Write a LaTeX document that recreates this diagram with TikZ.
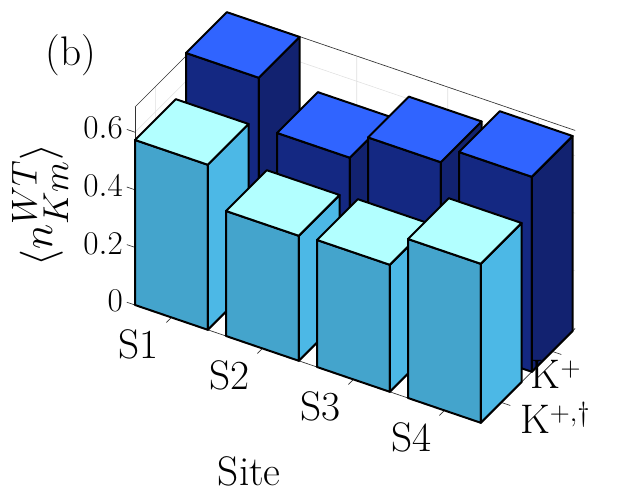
\documentclass[tikz,border=0pt]{standalone}
\usepackage{amsmath}
\definecolor{ffront}{RGB}{68,164,204}
\definecolor{fside}{RGB}{76,184,230}
\definecolor{ftop}{RGB}{178,255,255}
\definecolor{bfront}{RGB}{20,40,130}
\definecolor{bside}{RGB}{18,34,112}
\definecolor{btop}{RGB}{48,100,255}
\newcommand{\mybar}[6]{%
 \draw[barline,fill=#4] (#1,#2,0)--(#1+.8,#2,0)--(#1+.8,#2,#3)--(#1,#2,#3)--cycle;
 \draw[barline,fill=#5] (#1+.8,#2,0)--(#1+.8,#2+.8,0)--(#1+.8,#2+.8,#3)--(#1+.8,#2,#3)--cycle;
 \draw[barline,fill=#6] (#1,#2,#3)--(#1+.8,#2,#3)--(#1+.8,#2+.8,#3)--(#1,#2+.8,#3)--cycle;}
\begin{document}
\begin{tikzpicture}[x=1pt,y=1pt,
  barline/.style={line width=1.5pt,line join=round},
  gridl/.style={gray!25,line width=0.4pt},
  axl/.style={black!80,line width=0.5pt},
  lab/.style={font=\fontsize{31}{36}\selectfont,inner sep=0pt}]
\useasboundingbox (0,0) rectangle (473.25,375.75);
\begin{scope}[shift={(101.25,147)},x={(68.25pt,-23.25pt)},y={(38.25pt,38.25pt)},z={(0pt,216pt)}]
% grid
\foreach \c in {0,0.2,0.4,0.6}{
  \draw[gridl] (0,0,\c)--(0,1.85,\c)--(3.8,1.85,\c);}
\foreach \a in {0.4,1.4,2.4,3.4}{
  \draw[gridl] (\a,0,0)--(\a,1.85,0)--(\a,1.85,0.6875);}
\foreach \b in {0.4,1.4}{
  \draw[gridl] (3.8,\b,0)--(0,\b,0)--(0,\b,0.6875);}
% box
\draw[axl] (0,0,0.6875)--(0,1.85,0.6875)--(3.8,1.85,0.6875);
\draw[axl] (0,1.85,0)--(0,1.85,0.6875);
\draw[axl] (0,0,0)--(0,0,0.6875);
\draw[axl] (0,0,0)--(3.8,0,0)--(3.8,1.85,0);
% ticks
\foreach \c/\t in {0/0,0.2/0.2,0.4/0.4,0.6/0.6}{
  \draw[axl] (0,0,\c)--(-0.09,0,\c);
  \node[lab,anchor=east] (z\c) at (-0.13,0,\c) {$\t$};}
\foreach \a/\t in {0.4/1,1.4/2,2.4/3,3.4/4}{
  \draw[axl] (\a,0,0)--(\a,-0.1,0);
  \node[lab] (s\t) at (\a-0.05,-0.55,0) {S\t};}
\draw[axl] (3.8,0.4,0)--(3.9,0.4,0);
\draw[axl] (3.8,1.4,0)--(3.9,1.4,0);
% back row
\mybar{0}{1}{0.698}{bfront}{bside}{btop}
\mybar{1}{1}{0.528}{bfront}{bside}{btop}
\mybar{2}{1}{0.62}{bfront}{bside}{btop}
\mybar{3}{1}{0.677}{bfront}{bside}{btop}
% front row
\mybar{0}{0}{0.573}{ffront}{fside}{ftop}
\mybar{1}{0}{0.434}{ffront}{fside}{ftop}
\mybar{2}{0}{0.441}{ffront}{fside}{ftop}
\mybar{3}{0}{0.552}{ffront}{fside}{ftop}
\end{scope}
\node[lab,anchor=west] (kp) at (398,95) {K$^{+}$};
\node[lab,anchor=west] (kpd) at (390,62) {K$^{+,\dagger}$};
\node[lab] (site) at (187,22) {Site};
\node[lab,rotate=90,scale=1.3] (ylab) at (30,222) {$\langle n_{Km}^{WT}\rangle$};
\node[lab] (b) at (53,334) {(b)};
\end{tikzpicture}
\end{document}
